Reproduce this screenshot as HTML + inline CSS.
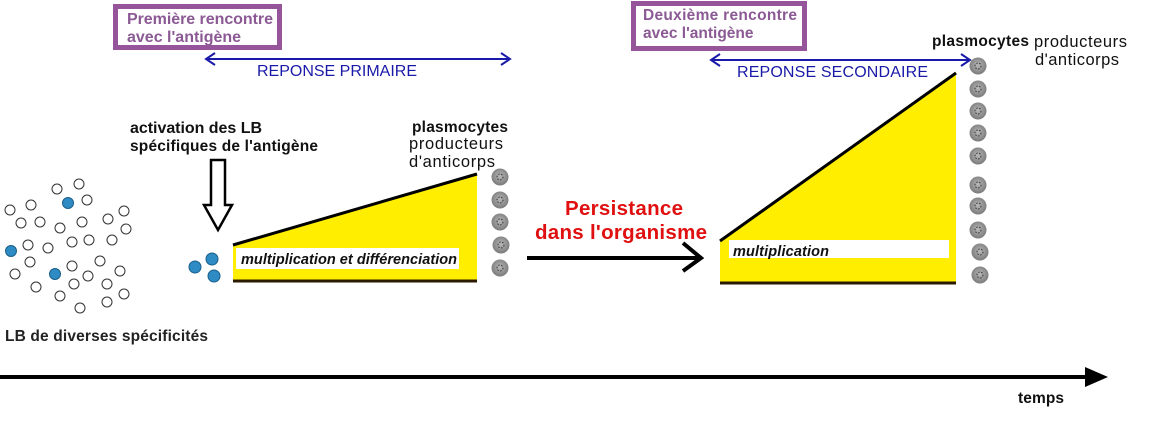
<!DOCTYPE html>
<html><head><meta charset="utf-8"><style>
html,body{margin:0;padding:0;background:#fff;width:1160px;height:421px;overflow:hidden}
text{font-family:"Liberation Sans",sans-serif}
</style></head><body>
<svg width="1160" height="421" viewBox="0 0 1160 421" xmlns="http://www.w3.org/2000/svg">
<defs>
<radialGradient id="pg" cx="50%" cy="45%" r="55%"><stop offset="0" stop-color="#b8b8b8"/><stop offset="1" stop-color="#7a7a7a"/></radialGradient>
<g id="pl"><circle r="8.5" fill="url(#pg)"/><circle r="3" fill="none" stroke="#333" stroke-width="1" stroke-dasharray="1.5 1.5"/></g>
</defs>
<rect x="115.5" y="6.5" width="164" height="41" fill="none" stroke="#96559a" stroke-width="5"/>
<text x="127" y="24" font-size="16" font-weight="bold" fill="#8b5a94" textLength="146">Première rencontre</text>
<text x="127" y="42" font-size="16" font-weight="bold" fill="#8b5a94">avec l'antigène</text>
<rect x="633.5" y="3.5" width="171" height="45" fill="none" stroke="#96559a" stroke-width="5"/>
<text x="643" y="20" font-size="15.5" font-weight="bold" fill="#8b5a94" textLength="154">Deuxième rencontre</text>
<text x="643" y="38" font-size="15.5" font-weight="bold" fill="#8b5a94">avec l'antigène</text>
<g stroke="#1a1aa8" stroke-width="2" fill="none">
<line x1="206" y1="59" x2="510" y2="59"/><polyline points="215,53 206,59 215,65"/><polyline points="501,53 510,59 501,65"/>
<line x1="711" y1="60" x2="970" y2="60"/><polyline points="720,54 711,60 720,66"/><polyline points="961,54 970,60 961,66"/>
</g>
<text x="257" y="76" font-size="16" fill="#1a1aa8" textLength="160">REPONSE PRIMAIRE</text>
<text x="737" y="77" font-size="16" fill="#1a1aa8" textLength="191">REPONSE SECONDAIRE</text>
<text x="130" y="133" font-size="16" font-weight="bold" fill="#111" textLength="132">activation des LB</text>
<text x="130" y="151" font-size="15.5" font-weight="bold" fill="#111" textLength="188">spécifiques de l'antigène</text>
<text x="412" y="132" font-size="15.5" font-weight="bold" fill="#111" textLength="96">plasmocytes</text>
<text x="409" y="149" font-size="16.5" fill="#111" textLength="94">producteurs</text>
<text x="409" y="167" font-size="16.5" fill="#111" textLength="86">d'anticorps</text>
<text x="932" y="46" font-size="15.5" font-weight="bold" fill="#111" textLength="97">plasmocytes</text>
<text x="1034" y="47" font-size="16.5" fill="#111" textLength="93">producteurs</text>
<text x="1035" y="65" font-size="16.5" fill="#111" textLength="84">d'anticorps</text>
<polygon points="211,160 225,160 225,205 232,205 218,230 204,205 211,205" fill="#fff" stroke="#000" stroke-width="2.5"/>
<g fill="#fff" stroke="#333" stroke-width="1">
<circle cx="57" cy="189" r="5"/><circle cx="79" cy="184" r="5"/><circle cx="87" cy="200" r="5"/><circle cx="10" cy="210" r="5"/><circle cx="31" cy="205" r="5"/><circle cx="21" cy="223" r="5"/><circle cx="40" cy="222" r="5"/><circle cx="60" cy="228" r="5"/><circle cx="82" cy="222" r="5"/><circle cx="108" cy="219" r="5"/><circle cx="124" cy="211" r="5"/><circle cx="126" cy="229" r="5"/><circle cx="72" cy="242" r="5"/><circle cx="89" cy="240" r="5"/><circle cx="112" cy="240" r="5"/><circle cx="28" cy="245" r="5"/><circle cx="48" cy="248" r="5"/><circle cx="30" cy="262" r="5"/><circle cx="15" cy="274" r="5"/><circle cx="72" cy="266" r="5"/><circle cx="88" cy="276" r="5"/><circle cx="100" cy="261" r="5"/><circle cx="120" cy="271" r="5"/><circle cx="36" cy="287" r="5"/><circle cx="74" cy="284" r="5"/><circle cx="107" cy="284" r="5"/><circle cx="124" cy="294" r="5"/><circle cx="60" cy="296" r="5"/><circle cx="80" cy="308" r="5"/><circle cx="107" cy="302" r="5"/>
</g>
<g fill="#2e8bc4" stroke="#1a5f8a" stroke-width="1">
<circle cx="68" cy="203" r="5.5"/><circle cx="11" cy="251" r="5.5"/><circle cx="55" cy="274" r="5.5"/>
<circle cx="195" cy="267" r="6"/><circle cx="212" cy="259" r="6"/><circle cx="214" cy="276" r="6"/>
</g>
<text x="5" y="341" font-size="15.5" font-weight="bold" fill="#222" textLength="203">LB de diverses spécificités</text>
<polygon points="233,245 477,173 477,281 233,281" fill="#ffee00"/>
<line x1="233" y1="245" x2="477" y2="174" stroke="#000" stroke-width="3"/>
<line x1="233" y1="281" x2="477" y2="281" stroke="#2a1a00" stroke-width="3"/>
<rect x="236" y="248" width="223" height="21" fill="#fff"/>
<text x="241" y="264" font-size="14.5" font-weight="bold" font-style="italic" fill="#111" textLength="216">multiplication et différenciation</text>
<use href="#pl" x="500" y="177"/><use href="#pl" x="500" y="200"/><use href="#pl" x="500" y="222"/><use href="#pl" x="501" y="245"/><use href="#pl" x="500" y="268"/>
<text x="624" y="215" font-size="20.5" font-weight="bold" fill="#e01010" text-anchor="middle" textLength="118">Persistance</text>
<text x="621" y="239" font-size="20.5" font-weight="bold" fill="#e01010" text-anchor="middle" textLength="172">dans l'organisme</text>
<line x1="527" y1="258" x2="700" y2="258" stroke="#000" stroke-width="4"/>
<polyline points="683,243 701,258 683,271" fill="none" stroke="#000" stroke-width="4"/>
<polygon points="720,241 956,72 956,283 720,283" fill="#ffee00"/>
<line x1="720" y1="241" x2="956" y2="73" stroke="#000" stroke-width="3"/>
<line x1="720" y1="283" x2="956" y2="283" stroke="#2a1a00" stroke-width="3"/>
<rect x="729" y="240" width="220" height="18" fill="#fff"/>
<text x="733" y="256" font-size="14.5" font-weight="bold" font-style="italic" fill="#111" textLength="96">multiplication</text>
<use href="#pl" x="978" y="66"/><use href="#pl" x="978" y="89"/><use href="#pl" x="978" y="111"/><use href="#pl" x="978" y="133"/><use href="#pl" x="978" y="156"/><use href="#pl" x="978" y="185"/><use href="#pl" x="978" y="206"/><use href="#pl" x="978" y="230"/><use href="#pl" x="980" y="252"/><use href="#pl" x="980" y="275"/>
<line x1="0" y1="377" x2="1088" y2="377" stroke="#000" stroke-width="4"/>
<polygon points="1085,367 1108,377 1085,387" fill="#000"/>
<text x="1018" y="403" font-size="15.5" font-weight="bold" fill="#111" textLength="46">temps</text>
</svg>
</body></html>
